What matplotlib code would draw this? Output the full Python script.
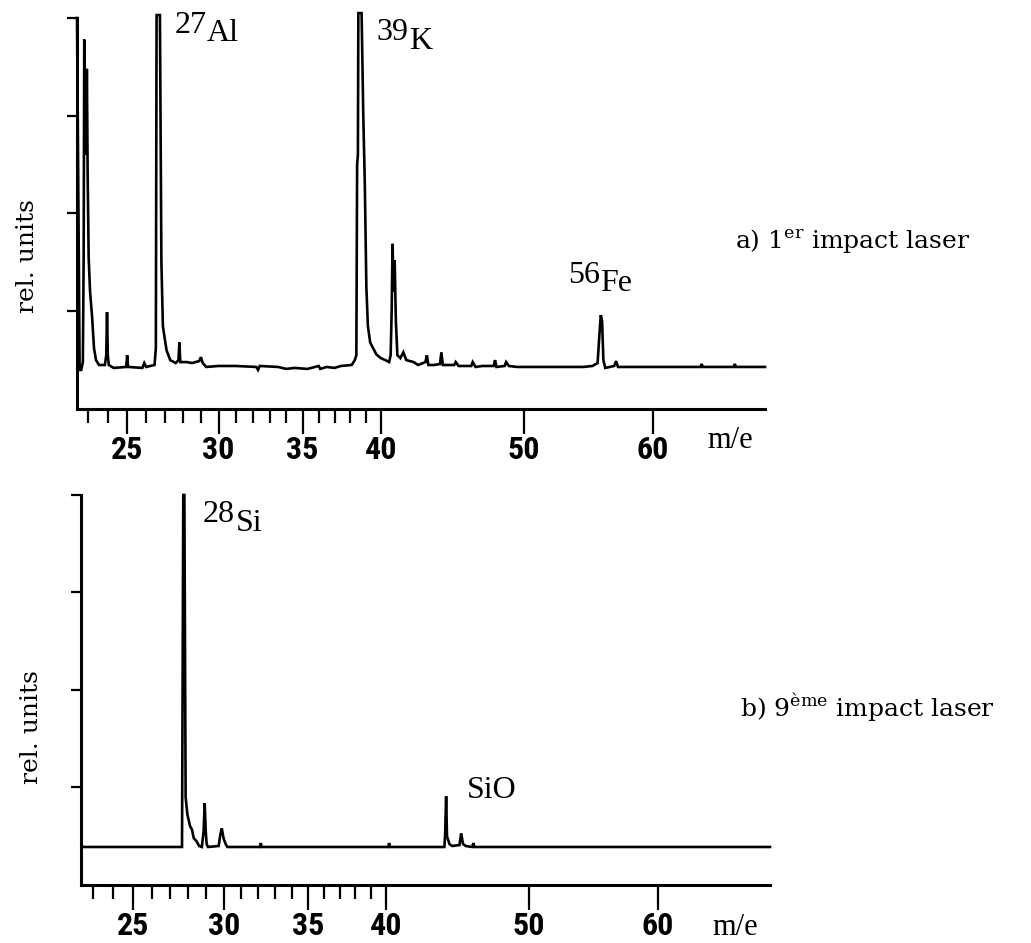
import numpy as np
import matplotlib
matplotlib.use('Agg')
import matplotlib.pyplot as plt
from matplotlib.ticker import FixedLocator, FixedFormatter, NullFormatter

# spectrum a) 1er impact laser  (m/e, rel. units)
mz_a = [22.45, 22.58, 22.66, 22.74, 22.78, 22.81, 22.85, 22.90, 22.94, 22.98,
        23.03, 23.10, 23.20, 23.30, 23.40, 23.55, 23.85, 23.92, 23.96, 24.00,
        24.05, 24.30, 24.95, 25.00, 25.05, 25.80, 25.90, 26.00, 26.45, 26.52,
        26.56, 26.74, 26.82, 26.90, 27.00, 27.10, 27.30, 27.60, 27.75, 27.80,
        27.85, 28.20, 28.50, 28.90, 29.00, 29.10, 29.30, 30.00, 31.00, 32.20,
        32.30, 32.40, 33.50, 34.00, 34.50, 35.30, 36.00, 36.10, 36.50, 37.00,
        37.40, 38.10, 38.30, 38.40, 38.45, 38.50, 38.53, 38.74, 38.85, 38.95,
        39.05, 39.15, 39.30, 39.50, 39.70, 40.00, 40.30, 40.55, 40.65, 40.72,
        40.78, 40.85, 40.92, 41.00, 41.10, 41.30, 41.50, 41.70, 42.20, 42.50,
        43.00, 43.10, 43.20, 43.60, 44.00, 44.10, 44.20, 45.00, 45.10, 45.30,
        46.20, 46.30, 46.50, 47.00, 47.80, 47.90, 48.00, 48.60, 48.70, 48.90,
        49.50, 52.00, 54.50, 55.20, 55.60, 55.75, 55.85, 55.95, 56.05, 56.20,
        56.90, 57.05, 57.20, 63.90, 64.00, 64.10, 66.70, 66.80, 66.90, 69.40]
int_a = [4.00, 0.40, 0.40, 0.48, 1.55, 3.78, 3.30, 2.60, 3.48, 2.40,
         1.55, 1.20, 0.95, 0.62, 0.50, 0.45, 0.45, 0.55, 0.99, 0.55,
         0.45, 0.42, 0.43, 0.55, 0.43, 0.42, 0.47, 0.43, 0.45, 0.62,
         4.03, 4.03, 1.50, 0.85, 0.72, 0.60, 0.50, 0.47, 0.50, 0.68,
         0.48, 0.48, 0.47, 0.49, 0.53, 0.47, 0.43, 0.44, 0.44, 0.43,
         0.40, 0.44, 0.43, 0.41, 0.42, 0.41, 0.44, 0.41, 0.43, 0.42,
         0.44, 0.45, 0.50, 0.55, 2.50, 2.60, 4.05, 4.05, 3.00, 2.30,
         1.25, 0.85, 0.68, 0.62, 0.56, 0.52, 0.50, 0.48, 0.55, 1.00,
         1.69, 1.20, 1.52, 0.90, 0.55, 0.52, 0.58, 0.50, 0.48, 0.45,
         0.48, 0.55, 0.45, 0.45, 0.46, 0.58, 0.45, 0.45, 0.48, 0.44,
         0.44, 0.48, 0.43, 0.44, 0.44, 0.50, 0.43, 0.44, 0.48, 0.44,
         0.43, 0.43, 0.43, 0.44, 0.47, 0.78, 0.96, 0.90, 0.50, 0.42,
         0.44, 0.49, 0.43, 0.43, 0.46, 0.43, 0.43, 0.46, 0.43, 0.43]

# spectrum b) 9eme impact laser
mz_b = [22.40, 22.45, 27.65, 27.67, 27.72, 27.78, 27.85, 27.95, 28.10, 28.20,
        28.30, 28.45, 28.60, 28.75, 28.85, 28.91, 28.97, 29.02, 29.10, 29.70,
        29.80, 29.88, 29.98, 30.10, 30.20, 32.10, 32.15, 32.20, 40.15, 40.20,
        40.25, 43.95, 44.00, 44.07, 44.13, 44.30, 44.50, 45.00, 45.12, 45.25,
        45.45, 45.90, 45.98, 46.05, 69.40]
int_b = [0.42, 0.39, 0.39, 1.38, 4.00, 4.00, 0.90, 0.72, 0.60, 0.57,
         0.48, 0.45, 0.40, 0.39, 0.55, 0.84, 0.55, 0.42, 0.39, 0.40,
         0.52, 0.58, 0.48, 0.42, 0.39, 0.39, 0.43, 0.39, 0.39, 0.43,
         0.39, 0.39, 0.52, 0.91, 0.50, 0.42, 0.40, 0.41, 0.53, 0.42,
         0.40, 0.39, 0.43, 0.39, 0.39]

major_ticks = [25, 30, 35, 40, 50, 60]
major_labels = ['25', '30', '35', '40', '50', '60']
minor_ticks = [23, 24, 26, 27, 28, 29, 31, 32, 33, 34, 36, 37, 38, 39]
y_ticks = [1, 2, 3, 4]

# peak labels: (mass number, symbol, m/e anchor, height anchor)
peaks_a = [('27', 'Al', 27.53, 3.85), ('39', 'K', 39.72, 3.77), ('56', 'Fe', 53.3, 1.29)]
peaks_b = [('28', 'Si', 28.80, 3.72)]

plt.rcParams['mathtext.fontset'] = 'custom'
plt.rcParams['mathtext.rm'] = 'DejaVu Serif'

# narrow bold face for the tick numbers, first one installed wins
tick_font = ['DejaVu Sans Condensed', 'Roboto Condensed', 'Liberation Sans Narrow', 'Roboto']
serif = 'Liberation Serif'


def setup_axis(ax, xlim):
    ax.set_xscale('function', functions=(np.sqrt, np.square))
    ax.set_xlim(*xlim)
    ax.set_ylim(0, 4)
    for s in ['top', 'right']:
        ax.spines[s].set_visible(False)
    for s in ['left', 'bottom']:
        ax.spines[s].set_linewidth(2.2)
    ax.xaxis.set_major_locator(FixedLocator(major_ticks))
    ax.xaxis.set_major_formatter(FixedFormatter(major_labels))
    ax.xaxis.set_minor_locator(FixedLocator(minor_ticks))
    ax.xaxis.set_minor_formatter(NullFormatter())
    ax.tick_params(axis='x', which='major', direction='out', length=18, width=1.6, pad=1, labelsize=23)
    ax.tick_params(axis='x', which='minor', direction='out', length=10, width=1.6)
    ax.set_yticks(y_ticks)
    ax.set_yticklabels([])
    ax.tick_params(axis='y', direction='out', length=7, width=1.6)
    for lbl in ax.get_xticklabels():
        lbl.set_fontfamily(tick_font)
        lbl.set_fontweight('bold')
        lbl.set_fontstretch('condensed')


def peak_label(ax, num, sym, x, y, size=23):
    t = ax.text(x, y, num, fontsize=size, family=serif, ha='left', va='baseline')
    ax.annotate(sym, xy=(1, 0), xycoords=t, xytext=(0.5, -6), textcoords='offset points',
                fontsize=size, family=serif, ha='left', va='bottom')


fig = plt.figure(figsize=(10.31, 9.43), dpi=100)
ax1 = fig.add_axes([0.0747, 0.5663, 0.6673, 0.4146])
ax2 = fig.add_axes([0.0790, 0.0615, 0.6678, 0.4136])

setup_axis(ax1, (22.45, 69.4))
setup_axis(ax2, (22.40, 69.4))

ax1.plot(mz_a, int_a, color='black', lw=1.9, clip_on=False, solid_joinstyle='miter')
ax2.plot(mz_b, int_b, color='black', lw=1.9, clip_on=False, solid_joinstyle='miter')

for num, sym, x, y in peaks_a:
    peak_label(ax1, num, sym, x, y)
for num, sym, x, y in peaks_b:
    peak_label(ax2, num, sym, x, y)
ax2.text(45.53, 0.89, 'SiO', fontsize=23, family=serif, ha='left', va='baseline')

for ax, ylab_y, me_y in [(ax1, 0.391, -0.10), (ax2, 0.405, -0.128)]:
    ax.text(-0.072, ylab_y, 'rel. units', transform=ax.transAxes, rotation=90,
            fontsize=18, family='DejaVu Serif', ha='center', va='center')
    ax.text(0.916, me_y, 'm/e', transform=ax.transAxes, fontsize=22,
            family=serif, ha='left', va='baseline')

ax1.text(0.956, 0.412, r'a) 1$^{\mathrm{er}}$ impact laser', transform=ax1.transAxes,
         fontsize=18, family='DejaVu Serif', ha='left', va='baseline')
ax2.text(0.956, 0.431, r'b) 9$^{\mathrm{ème}}$ impact laser', transform=ax2.transAxes,
         fontsize=18, family='DejaVu Serif', ha='left', va='baseline')

fig.savefig('out.png', dpi=100)
